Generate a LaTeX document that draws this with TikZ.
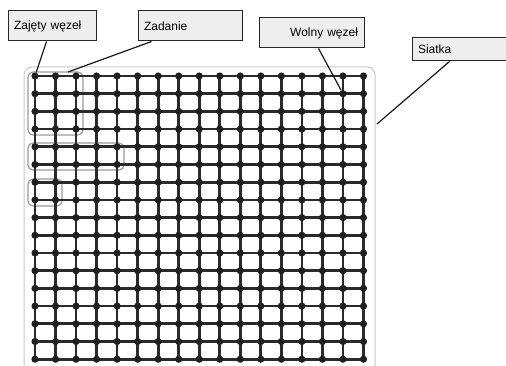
\documentclass[tikz,border=0pt]{standalone}
\usepackage{fontspec}
\setmainfont{Liberation Sans}
\usetikzlibrary{backgrounds}
\definecolor{gridink}{HTML}{2A2A2A}
\definecolor{dotink}{HTML}{1F1F1F}
\definecolor{framegray}{HTML}{C8C8C8}
\definecolor{taskgray}{HTML}{9A9A9A}
\definecolor{calloutfill}{HTML}{EEEEEE}
\tikzset{
  gridnode/.style={circle, fill=dotink, inner sep=0pt, minimum size=7.2pt},
  gridline/.style={draw=gridink, line width=2.7pt},
  frame/.style={draw=framegray, line width=1pt, rounded corners=8pt},
  taskbox/.style={draw=taskgray, line width=1.2pt, rounded corners=5pt},
  callout/.style={draw=black!85, fill=calloutfill, line width=1pt,
    minimum height=30pt, inner xsep=6pt, inner ysep=0pt,
    font=\fontsize{12}{14}\selectfont},
  leader/.style={draw=black!90, line width=1.2pt},
}
\begin{document}
\begin{tikzpicture}[x=1pt,y=-1pt]
\useasboundingbox (0,0) rectangle (506,366);
\clip (0,0) rectangle (506,366);

% lattice nodes, 17 x 17
\foreach \i in {0,...,16}
  \foreach \j in {0,...,16}
    \node[gridnode] (n-\i-\j) at ({35+20.53*\i},{76+17.7*\j}) {};

\begin{scope}[on background layer]
  % outer frame of the mesh
  \draw[frame] (24,67) rectangle (375,374);
  % allocated task regions
  \draw[taskbox] (28,72) rectangle (83,135);
  \draw[taskbox] (28,143) rectangle (124,170);
  \draw[taskbox] (28,179) rectangle (62,206);
  % mesh links
  \foreach \k in {0,...,16} {
    \draw[gridline] (n-0-\k.center) -- (n-16-\k.center);
    \draw[gridline] (n-\k-0.center) -- (n-\k-16.center);
  }
\end{scope}

% labels
\node[callout, minimum width=88pt, text width=76pt, align=left] (zajety) at (52,26) {Zajęty węzeł};
\node[callout, minimum width=104pt, text width=92pt, align=left] (zadanie) at (190,26) {Zadanie};
\node[callout, minimum width=105pt, text width=93pt, align=right] (wolny) at (311.5,33) {Wolny węzeł};
\node[callout, minimum width=110pt, text width=98pt, minimum height=23pt, align=left] (siatka) at (467,49.5) {Siatka};

\coordinate (taskTop) at (68,72);
\coordinate (frameEdge) at (377,124);

\draw[leader] ([xshift=39pt]zajety.south west) -- (n-0-0);
\draw[leader] ([xshift=14pt]zadanie.south west) -- (taskTop);
\draw[leader] ([xshift=60pt]wolny.south west) -- (n-15-1);
\draw[leader] ([xshift=38pt]siatka.south west) -- (frameEdge);
\end{tikzpicture}
\end{document}
